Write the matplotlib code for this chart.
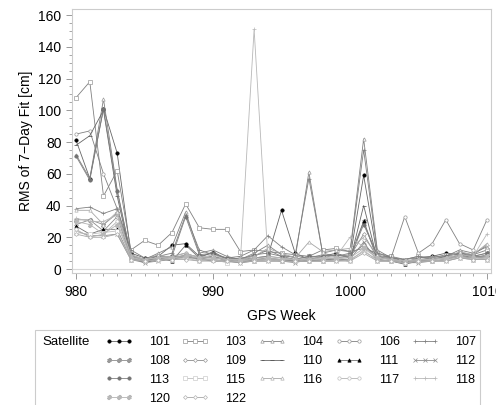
import numpy as np
import matplotlib
matplotlib.use("Agg")
import matplotlib.pyplot as plt
from matplotlib.patches import Rectangle

plt.rcParams["font.family"] = ["Liberation Sans", "DejaVu Sans"]

weeks = list(range(980, 1011))

s101 = [81, 57, 101, 73, 10, 7, 8, 15, 16, 8, 10, 6, 5, 7, 8, 37, 10, 6, 8, 10, 7, 59, 8, 8, 4, 7, 8, 10, 9, 8, 8]
s103 = [108, 118, 46, 62, 12, 18, 15, 23, 41, 26, 25, 25, 11, 12, 11, 10, 9, 8, 12, 13, 11, 13, 10, 8, 6, 8, 7, 9, 10, 9, 12]
s104 = [72, 57, 107, 50, 8, 6, 10, 14, 36, 10, 12, 8, 6, 10, 15, 9, 7, 61, 10, 12, 11, 82, 12, 7, 6, 7, 8, 8, 12, 10, 14]
s106 = [85, 87, 60, 38, 9, 5, 7, 8, 10, 7, 8, 6, 7, 8, 12, 8, 8, 7, 9, 8, 9, 15, 8, 7, 33, 10, 16, 31, 16, 12, 31]
s107 = [38, 39, 35, 38, 12, 7, 8, 10, 34, 12, 9, 7, 8, 12, 21, 14, 9, 57, 10, 8, 10, 75, 10, 7, 6, 8, 6, 8, 10, 9, 15]
s108 = [31, 31, 28, 35, 8, 6, 6, 8, 8, 7, 7, 6, 6, 7, 8, 7, 6, 8, 7, 9, 8, 30, 8, 6, 5, 6, 7, 7, 9, 8, 10]
s109 = [28, 31, 24, 33, 7, 5, 7, 6, 9, 6, 8, 5, 5, 6, 7, 6, 5, 7, 6, 7, 8, 22, 7, 6, 5, 5, 6, 7, 8, 7, 9]
s110 = [78, 84, 100, 46, 7, 4, 6, 6, 8, 6, 5, 5, 4, 6, 6, 6, 5, 5, 6, 6, 5, 40, 6, 5, 4, 5, 5, 6, 8, 7, 8]
s111 = [27, 22, 25, 25, 6, 5, 7, 5, 15, 7, 11, 6, 5, 5, 6, 5, 5, 5, 5, 6, 6, 30, 6, 5, 3, 5, 5, 6, 9, 7, 7]
s112 = [24, 21, 21, 22, 6, 4, 5, 6, 8, 6, 6, 5, 4, 5, 5, 5, 4, 6, 5, 5, 6, 17, 5, 5, 4, 4, 5, 5, 7, 6, 6]
s113 = [71, 56, 101, 49, 9, 6, 8, 8, 33, 9, 10, 7, 6, 9, 10, 8, 6, 8, 8, 9, 7, 28, 9, 6, 5, 6, 6, 8, 10, 8, 10]
s115 = [23, 22, 23, 24, 6, 5, 6, 6, 7, 5, 6, 4, 5, 5, 6, 5, 5, 5, 5, 6, 5, 12, 5, 5, 4, 5, 5, 6, 7, 6, 6]
s116 = [37, 37, 28, 36, 8, 6, 9, 7, 9, 8, 7, 6, 6, 8, 13, 10, 7, 17, 11, 12, 13, 20, 9, 6, 5, 6, 6, 7, 11, 9, 16]
s117 = [25, 20, 22, 30, 7, 5, 6, 7, 7, 6, 6, 5, 5, 6, 6, 6, 6, 6, 6, 7, 6, 11, 6, 5, 4, 5, 5, 6, 8, 6, 7]
s118 = [32, 30, 30, 34, 9, 6, 7, 8, 10, 7, 9, 6, 6, 151, 8, 7, 6, 7, 7, 8, 20, 14, 7, 6, 5, 6, 6, 7, 9, 8, 22]
s120 = [30, 28, 22, 28, 7, 6, 7, 7, 8, 7, 7, 6, 5, 7, 7, 6, 6, 6, 7, 7, 7, 13, 7, 6, 5, 6, 6, 7, 8, 7, 8]
s122 = [22, 20, 20, 22, 6, 5, 6, 6, 6, 5, 5, 5, 4, 5, 5, 5, 5, 5, 5, 5, 5, 10, 5, 5, 4, 5, 5, 5, 7, 6, 6]

satellites = ["101", "103", "104", "106", "107", "108", "109", "110", "111",
              "112", "113", "115", "116", "117", "118", "120", "122"]
series = [s101, s103, s104, s106, s107, s108, s109, s110, s111,
          s112, s113, s115, s116, s117, s118, s120, s122]

# marker, filled?, marker gray, line gray
styles = {
    "101": ("o", True, "0.0", "0.4"),
    "103": ("s", False, "0.6", "0.5"),
    "104": ("^", False, "0.6", "0.5"),
    "106": ("o", False, "0.6", "0.5"),
    "107": ("+", True, "0.5", "0.5"),
    "108": ("$\\#$", True, "0.6", "0.55"),
    "109": ("D", False, "0.6", "0.55"),
    "110": ("_", True, "0.3", "0.4"),
    "111": ("^", True, "0.0", "0.45"),
    "112": ("x", True, "0.55", "0.55"),
    "113": ("o", True, "0.45", "0.5"),
    "115": ("s", False, "0.8", "0.75"),
    "116": ("^", False, "0.7", "0.65"),
    "117": ("o", False, "0.75", "0.7"),
    "118": ("+", True, "0.72", "0.72"),
    "120": ("$\\#$", True, "0.72", "0.7"),
    "122": ("D", False, "0.7", "0.65"),
}

fig = plt.figure(figsize=(4.96, 4.05), dpi=100)
ax = fig.add_axes([72 / 496, 1 - 273 / 405, 419 / 496, 264 / 405])

handles = {}
for name, vals in zip(satellites, series):
    mk, filled, mcol, lcol = styles[name]
    ms = 2.4
    if mk in ("+", "x", "_"):
        ms = 3.2
    elif mk == "$\\#$":
        ms = 3.2
    elif mk == "D":
        ms = 2.0
    ln, = ax.plot(weeks, vals, color=lcol, lw=0.6, marker=mk, markersize=ms,
                  markerfacecolor=mcol if filled else "white",
                  markeredgecolor=mcol, markeredgewidth=0.5, label=name)
    handles[name] = ln

ax.set_xlim(979.7, 1010.3)
ax.set_ylim(-2.5, 163.8)
ax.set_xticks([980, 990, 1000, 1010])
ax.set_xticks(weeks, minor=True)
ax.set_yticks(range(0, 161, 20))
ax.set_yticks(range(0, 161, 5), minor=True)
ax.tick_params(axis="both", which="major", labelsize=10, length=4, color="0.6", width=0.7)
ax.tick_params(axis="both", which="minor", length=2, color="0.6", width=0.6)
ax.tick_params(axis="x", pad=5)
for sp in ax.spines.values():
    sp.set_color("0.8")
    sp.set_linewidth(0.8)
ax.axhline(0, color="0.85", lw=0.8, zorder=0)

ax.set_xlabel("GPS Week", fontsize=10, labelpad=7)
ax.set_ylabel("RMS of 7\u2212Day Fit [cm]", fontsize=10, labelpad=4)

# legend box
fig.patches.append(Rectangle((35 / 496, -0.02), 445 / 496, 1 - 330 / 405 + 0.02,
                             transform=fig.transFigure, fill=False,
                             edgecolor="0.8", lw=0.8))
fig.text(42 / 496, 1 - 342 / 405, "Satellite", fontsize=9.5, va="center", ha="left")

order = ["101", "108", "113", "120", "103", "109", "115", "122",
         "104", "110", "116", "106", "111", "117", "107", "112", "118"]
fig.legend([handles[n] for n in order], order, ncol=5, frameon=False,
           loc="upper left", bbox_to_anchor=(105 / 496, 1 - 336 / 405),
           fontsize=9, numpoints=3, handlelength=2.2, handletextpad=1.3,
           columnspacing=0.95, labelspacing=0.55, borderaxespad=0, borderpad=0)

fig.savefig("out.png", dpi=100)
